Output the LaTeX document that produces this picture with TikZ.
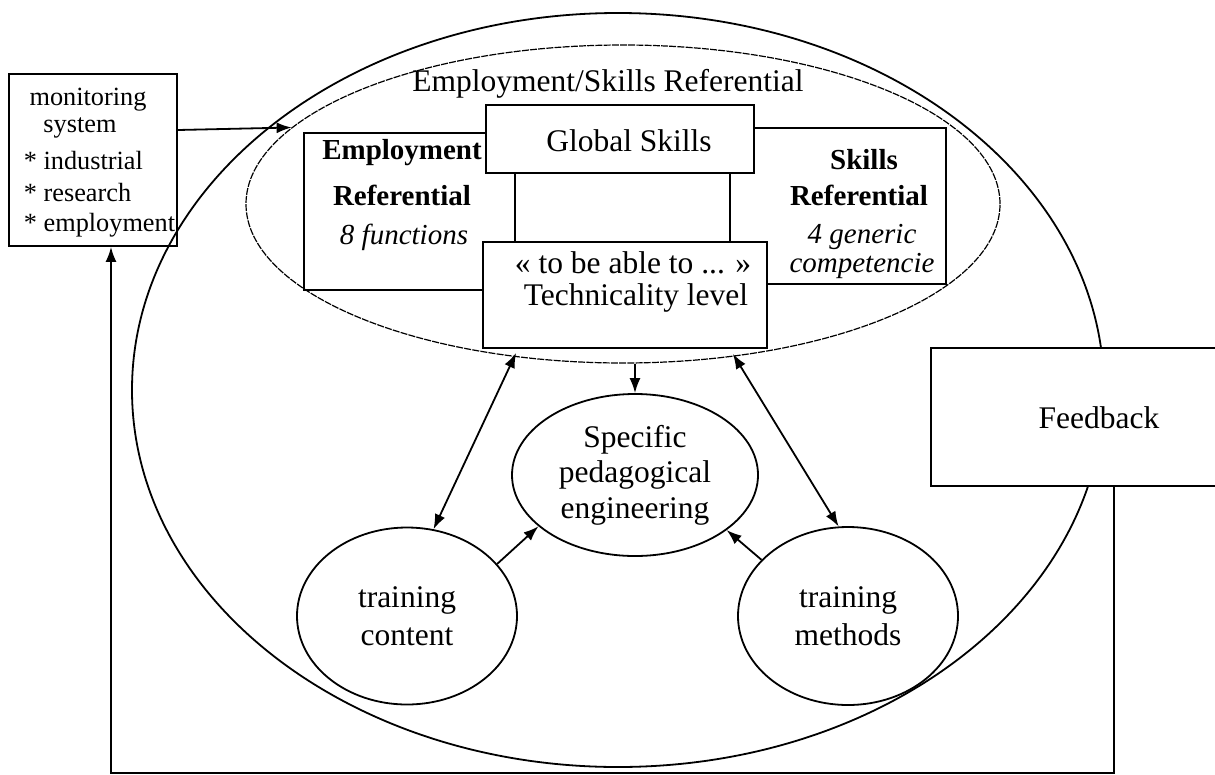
\documentclass[tikz,border=0pt]{standalone}
\usepackage{fontspec}
\setmainfont{Liberation Serif}
\usetikzlibrary{shapes.geometric,arrows.meta}
\newcommand\fsMain{\fontsize{31.5}{36}\selectfont}
\newcommand\fsBox{\fontsize{29}{34}\selectfont}
\newcommand\fsMon{\fontsize{26.3}{32}\selectfont}
\begin{document}
\begin{tikzpicture}[x=1pt,y=-1pt,
  line width=1.8pt,
  ell/.style={draw,ellipse,inner sep=0pt,align=center,font=\fsMain},
  boxed/.style={draw,rectangle,inner sep=0pt},
  txt/.style={inner sep=0pt,font=\fsMain},
  arr/.style={-{Latex[length=15pt,width=11pt]}},
  darr/.style={{Latex[length=15pt,width=11pt]}-{Latex[length=15pt,width=11pt]}}
]
\useasboundingbox (0,0) rectangle (1215,774);
% big ellipses
\node[ell,minimum width=972pt,minimum height=754pt] (outer) at (618,390) {};
\node[ell,line width=1.2pt,dash pattern=on 7pt off 1.2pt,minimum width=754pt,minimum height=318pt] (inner) at (623,204) {};
% referential boxes
\node[boxed,minimum width=211pt,minimum height=157pt] (emp) at (409.5,211.5) {};
\node[boxed,minimum width=216pt,minimum height=156pt] (skl) at (838,206) {};
\node[boxed,fill=white,minimum width=268pt,minimum height=68pt] (glob) at (620,139) {};
\node[boxed,fill=white,minimum width=284pt,minimum height=106pt] (tech) at (625,295) {};
\node[boxed,fill=white,minimum width=287pt,minimum height=138pt] (fb) at (1074.5,417) {};
\node[boxed,minimum width=168pt,minimum height=172pt] (mon) at (93,160) {};
% texts
\node[txt] (title) at (608,84) {Employment/Skills Referential};
\node[txt] (gstext) at (629,141) {Global Skills};
\node[txt] (techa) at (633,263) {« to be able to ... »};
\node[txt] (techb) at (636,298) {Technicality level};
\node[txt,font=\fsBox\bfseries] (empa) at (402,153) {Employment};
\node[txt,font=\fsBox\bfseries] (empb) at (402,195) {Referential};
\node[txt,font=\fsBox\itshape] (empc) at (404,237) {8 functions};
\node[txt,font=\fsBox\bfseries] (ska) at (864,160) {Skills};
\node[txt,font=\fsBox\bfseries] (skb) at (859,195) {Referential};
\node[txt,font=\fsBox\itshape] (skc) at (862,237) {4 generic};
\node[txt,font=\fsBox\itshape] (skd) at (862,266) {competencie};
\node[txt] (fbtext) at (1099,418) {Feedback};
\node[txt,font=\fsMon] (mona) at (88,100) {monitoring};
\node[txt,font=\fsMon] (monb) at (80,128) {system};
\node[txt,font=\fsMon,anchor=west] (monc) at (23,160) {* industrial};
\node[txt,font=\fsMon,anchor=west] (mond) at (23,192) {* research};
\node[txt,font=\fsMon,anchor=west] (mone) at (23,225) {* employment};
% lower ellipses
\node[ell,minimum width=246pt,minimum height=162pt,font={\fontsize{31.5}{35.5}\selectfont}] (spec) at (635,475) {Specific\\pedagogical\\engineering};
\node[ell,minimum width=220pt,minimum height=177pt,font={\fontsize{31.5}{38}\selectfont}] (tc) at (407,616) {training\\content};
\node[ell,minimum width=220pt,minimum height=178pt,font={\fontsize{31.5}{38}\selectfont}] (tm) at (848,616) {training\\methods};
% connectors
\coordinate (fbc) at (1114,773);
\coordinate (monbot) at (111,773);
\draw[arr] ([yshift=30pt]mon.east) -- (inner.167);
\draw[darr] ([xshift=34pt,yshift=-4pt]tech.south west) -- (tc.73);
\draw[darr] ([xshift=-35pt,yshift=-5pt]tech.south east) -- (tm.96);
\draw[arr] (inner.south -| spec.north) -- (spec.north);
\draw[arr] (tc.30) -- (spec.208);
\draw[arr] (tm.147) -- (spec.329);
\draw[arr] (fb.south -| fbc) -- (fbc) -- (monbot) -- (mon.south -| monbot);
\end{tikzpicture}
\end{document}
